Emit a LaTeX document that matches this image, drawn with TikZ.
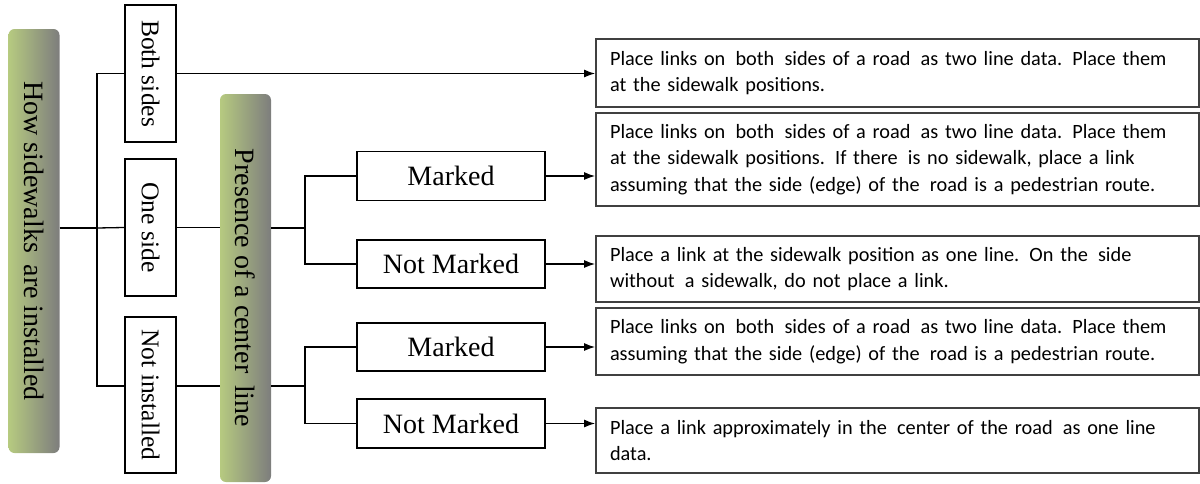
\documentclass[tikz,border=0pt]{standalone}
\usepackage{fontspec}
\setmainfont{Liberation Serif}
\newfontfamily\calib{Carlito}
\usepackage{tikz}
\usetikzlibrary{shapes,arrows,arrows.meta,positioning}

\definecolor{leafgreen}{RGB}{182,202,128}
\definecolor{leafgray}{RGB}{125,125,125}
\definecolor{rulegray}{RGB}{64,64,64}

\begin{document}
\begin{tikzpicture}[x=1pt,y=-1pt]
		\tikzstyle{Group}	= [rounded corners=6pt, rotate=-90, minimum height=51pt, inner sep=0pt, left color=leafgreen, right color=leafgray, font=\fontsize{28}{34}\selectfont]
		\tikzstyle{Choice}	= [draw, line width=2.2pt, rotate=-90, minimum height=51pt, inner sep=0pt, fill=white, font=\fontsize{25.5}{30}\selectfont]
		\tikzstyle{Case}	= [draw, line width=1.3pt, minimum width=188pt, inner sep=0pt, fill=white, font=\fontsize{28}{34}\selectfont]
		\tikzstyle{Rule}	= [draw=rulegray, line width=1.8pt, minimum width=603pt, inner xsep=14pt, inner ysep=0pt, text width=575pt, align=left, font=\calib\fontsize{20.3}{26.5}\selectfont]
		\tikzstyle{Branch}	= [line width=1.3pt]
		\tikzstyle{Link}	= [line width=1.3pt, -{Latex[length=11pt,width=8pt]}]

		\useasboundingbox (0,0) rectangle (1200,483);

		\node (g1) at (34,241) [Group, minimum width=424pt] {How sidewalks\, are installed};
		\node (g2) at (245.5,288) [Group, minimum width=388pt] {Presence of a center\, line};

		% rotated boxes: south is the left side, north the right side
		\node (both) at (150.5,73.5) [Choice, minimum width=137pt] {Both sides};
		\node (one) at (150.5,227.5) [Choice, minimum width=137pt] {One side};
		\node (notinst) at (150.5,395) [Choice, minimum width=156pt] {Not installed};

		\node (m1) at (451,176) [Case, minimum height=49pt] {Marked};
		\node (nm1) at (451,264) [Case, minimum height=48pt] {Not Marked};
		\node (m2) at (451,347) [Case, minimum height=48pt] {Marked};
		\node (nm2) at (451,423.5) [Case, minimum height=49pt] {Not Marked};

		\node (dA) at (897.5,73) [Rule, minimum height=68pt] {Place links on\, both\, sides of a road\, as two line data. Place them\\at the sidewalk positions.};
		\node (dB) at (897.5,159.5) [Rule, minimum height=93pt] {Place links on\, both\, sides of a road\, as two line data. Place them\\at the sidewalk positions. If there\, is no sidewalk, place a link\\assuming that the side (edge) of the\, road is a pedestrian route.};
		\node (dC) at (897.5,269) [Rule, minimum height=66pt] {Place a link at the sidewalk position as one line. On the\, side\\without\, a sidewalk, do not place a link.};
		\node (dD) at (897.5,341.5) [Rule, minimum height=67pt] {Place links on\, both\, sides of a road\, as two line data. Place them\\assuming that the side (edge) of the\, road is a pedestrian route.};
		\node (dE) at (897.5,440.5) [Rule, minimum height=65pt] {Place a link approximately in the\, center of the road\, as one line\\data.};

		\coordinate (j1) at (97,228);
		\coordinate (j2) at (305,228);
		\coordinate (j3) at (305,386);

		% first split
		\draw [Branch] (g1.north |- j1) to (j1);
		\draw [Branch] (both.south) -| (j1) |- (notinst.south |- j3);
		\draw [Branch] (j1) to (one.south);
		\draw [Branch] (one.north) to (g2.south |- one.north);
		\draw [Branch] (notinst.north |- j3) to (g2.south |- j3);

		% second split
		\draw [Branch] (g2.north |- j2) to (j2);
		\draw [Branch] (m1.west) -| (j2) |- (nm1.west);
		\draw [Branch] (g2.north |- j3) to (j3);
		\draw [Branch] (m2.west) -| (j3) |- (nm2.west);

		\draw [Link] (both.north) to (dA.west |- both.north);
		\draw [Link] (m1.east) to (dB.west |- m1.east);
		\draw [Link] (nm1.east) to (dC.west |- nm1.east);
		\draw [Link] (m2.east) to (dD.west |- m2.east);
		\draw [Link] (nm2.east) to (dE.west |- nm2.east);
	\end{tikzpicture}
\end{document}
